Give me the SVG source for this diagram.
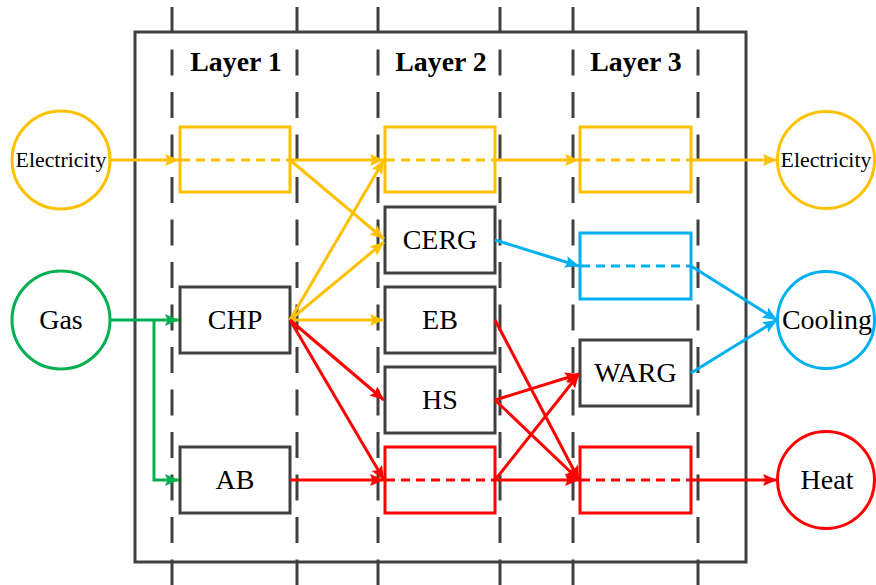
<svg xmlns="http://www.w3.org/2000/svg" width="876" height="585" viewBox="0 0 876 585">
  <style>
    .frame { fill: none; stroke: #404040; stroke-width: 3; }
    .lane { stroke: #404040; stroke-width: 3; stroke-dasharray: 26 16.5; }
    .box { fill: #ffffff; stroke: #404040; stroke-width: 3; }
    .bus { fill: #ffffff; stroke-width: 3; }
    .port { fill: #ffffff; stroke-width: 3; }
    .lbl { font-family: "Liberation Serif", "Times New Roman", serif; font-size: 28px; fill: #000000; text-anchor: middle; }
    .small { font-size: 21.8px; }
    .layer { font-weight: bold; font-size: 27.8px; }
    .c { fill: none; stroke-width: 3; }
    .dash { stroke-dasharray: 9 6; }
    .y { stroke: #FFC000; }
    .r { stroke: #FF0000; }
    .b { stroke: #00B0F0; }
    .g { stroke: #00B050; }
  </style>
  <defs>
    <marker id="ay" markerUnits="userSpaceOnUse" markerWidth="16" markerHeight="14" refX="14" refY="6" orient="auto">
      <path d="M0,0 L14,6 L0,12 L2.5,6 z" fill="#FFC000"/>
    </marker>
    <marker id="ar" markerUnits="userSpaceOnUse" markerWidth="16" markerHeight="14" refX="14" refY="6" orient="auto">
      <path d="M0,0 L14,6 L0,12 L2.5,6 z" fill="#FF0000"/>
    </marker>
    <marker id="ab" markerUnits="userSpaceOnUse" markerWidth="16" markerHeight="14" refX="14" refY="6" orient="auto">
      <path d="M0,0 L14,6 L0,12 L2.5,6 z" fill="#00B0F0"/>
    </marker>
    <marker id="ag" markerUnits="userSpaceOnUse" markerWidth="16" markerHeight="14" refX="14" refY="6" orient="auto">
      <path d="M0,0 L14,6 L0,12 L2.5,6 z" fill="#00B050"/>
    </marker>
  </defs>

  <rect x="0" y="0" width="876" height="585" fill="#ffffff"/>

  <!-- system boundary and layer lanes -->
  <g id="frame">
    <rect class="frame" x="135" y="32" width="611" height="530"/>
    <line class="lane" x1="172" y1="7" x2="172" y2="585"/>
    <line class="lane" x1="297" y1="7" x2="297" y2="585"/>
    <line class="lane" x1="378" y1="7" x2="378" y2="585"/>
    <line class="lane" x1="500" y1="7" x2="500" y2="585"/>
    <line class="lane" x1="573" y1="7" x2="573" y2="585"/>
    <line class="lane" x1="698" y1="7" x2="698" y2="585"/>
  </g>

  <g id="layer-titles">
    <text class="lbl layer" x="236" y="71">Layer 1</text>
    <text class="lbl layer" x="441" y="71">Layer 2</text>
    <text class="lbl layer" x="636" y="71">Layer 3</text>
  </g>

  <!-- energy inputs -->
  <g id="in-electricity">
    <circle class="port y" cx="61" cy="160" r="49"/>
    <text class="lbl small" x="61" y="167">Electricity</text>
  </g>
  <g id="in-gas">
    <circle class="port g" cx="61" cy="320" r="49"/>
    <text class="lbl" x="61" y="329">Gas</text>
  </g>

  <!-- layer 1 -->
  <g id="l1-elec-bus"><rect class="bus y" x="180" y="127" width="110" height="65"/></g>
  <g id="chp">
    <rect class="box" x="180" y="287" width="110" height="66"/>
    <text class="lbl" x="235" y="329">CHP</text>
  </g>
  <g id="ab">
    <rect class="box" x="180" y="447" width="110" height="66"/>
    <text class="lbl" x="235" y="489">AB</text>
  </g>

  <!-- layer 2 -->
  <g id="l2-elec-bus"><rect class="bus y" x="385" y="127" width="110" height="65"/></g>
  <g id="cerg">
    <rect class="box" x="385" y="207" width="110" height="66"/>
    <text class="lbl" x="440" y="249">CERG</text>
  </g>
  <g id="eb">
    <rect class="box" x="385" y="287" width="110" height="66"/>
    <text class="lbl" x="440" y="329">EB</text>
  </g>
  <g id="hs">
    <rect class="box" x="385" y="367" width="110" height="66"/>
    <text class="lbl" x="440" y="409">HS</text>
  </g>
  <g id="l2-heat-bus"><rect class="bus r" x="385" y="447" width="110" height="66"/></g>

  <!-- layer 3 -->
  <g id="l3-elec-bus"><rect class="bus y" x="580" y="127" width="111" height="65"/></g>
  <g id="l3-cool-bus"><rect class="bus b" x="580" y="233" width="111" height="66"/></g>
  <g id="warg">
    <rect class="box" x="580" y="340" width="111" height="66"/>
    <text class="lbl" x="635.5" y="382">WARG</text>
  </g>
  <g id="l3-heat-bus"><rect class="bus r" x="580" y="447" width="111" height="66"/></g>

  <!-- energy outputs -->
  <g id="out-electricity">
    <circle class="port y" cx="826" cy="160" r="48.5"/>
    <text class="lbl small" x="826" y="167">Electricity</text>
  </g>
  <g id="out-cooling">
    <circle class="port b" cx="826" cy="320" r="48.5"/>
    <text class="lbl" x="827" y="329">Cooling</text>
  </g>
  <g id="out-heat">
    <circle class="port r" cx="826" cy="480" r="48.5"/>
    <text class="lbl" x="827" y="489">Heat</text>
  </g>

  <g id="connectors">
    <!-- electricity -->
    <line class="c y" x1="110" y1="160" x2="179" y2="160" marker-end="url(#ay)"/>
    <line class="c y dash" x1="181" y1="160" x2="290" y2="160"/>
    <line class="c y" x1="290" y1="160" x2="384" y2="160" marker-end="url(#ay)"/>
    <line class="c y" x1="290" y1="160" x2="384" y2="239" marker-end="url(#ay)"/>
    <line class="c y" x1="290" y1="320" x2="384" y2="160" marker-end="url(#ay)"/>
    <line class="c y" x1="290" y1="320" x2="384" y2="242" marker-end="url(#ay)"/>
    <line class="c y" x1="290" y1="320" x2="384" y2="320" marker-end="url(#ay)"/>
    <line class="c y dash" x1="386" y1="160" x2="495" y2="160"/>
    <line class="c y" x1="495" y1="160" x2="579" y2="160" marker-end="url(#ay)"/>
    <line class="c y dash" x1="581" y1="160" x2="691" y2="160"/>
    <line class="c y" x1="691" y1="160" x2="777" y2="160" marker-end="url(#ay)"/>

    <!-- gas -->
    <line class="c g" x1="110" y1="320" x2="179" y2="320" marker-end="url(#ag)"/>
    <polyline class="c g" points="154,320 154,480 179,480" marker-end="url(#ag)"/>

    <!-- heat -->
    <line class="c r" x1="290" y1="320" x2="384" y2="400" marker-end="url(#ar)"/>
    <line class="c r" x1="290" y1="320" x2="384" y2="480" marker-end="url(#ar)"/>
    <line class="c r" x1="290" y1="480" x2="384" y2="480" marker-end="url(#ar)"/>
    <line class="c r dash" x1="386" y1="480" x2="495" y2="480"/>
    <line class="c r" x1="495" y1="480" x2="579" y2="480" marker-end="url(#ar)"/>
    <line class="c r" x1="495" y1="320" x2="579" y2="480" marker-end="url(#ar)"/>
    <line class="c r" x1="495" y1="400" x2="579" y2="480" marker-end="url(#ar)"/>
    <line class="c r" x1="495" y1="400" x2="579" y2="374" marker-end="url(#ar)"/>
    <line class="c r" x1="495" y1="480" x2="579" y2="374" marker-end="url(#ar)"/>
    <line class="c r dash" x1="581" y1="480" x2="691" y2="480"/>
    <line class="c r" x1="691" y1="480" x2="777" y2="480" marker-end="url(#ar)"/>

    <!-- cooling -->
    <line class="c b" x1="495" y1="240" x2="579" y2="266" marker-end="url(#ab)"/>
    <line class="c b dash" x1="581" y1="266" x2="691" y2="266"/>
    <line class="c b" x1="691" y1="266" x2="777" y2="320" marker-end="url(#ab)"/>
    <line class="c b" x1="691" y1="373" x2="777" y2="320" marker-end="url(#ab)"/>
  </g>
</svg>
